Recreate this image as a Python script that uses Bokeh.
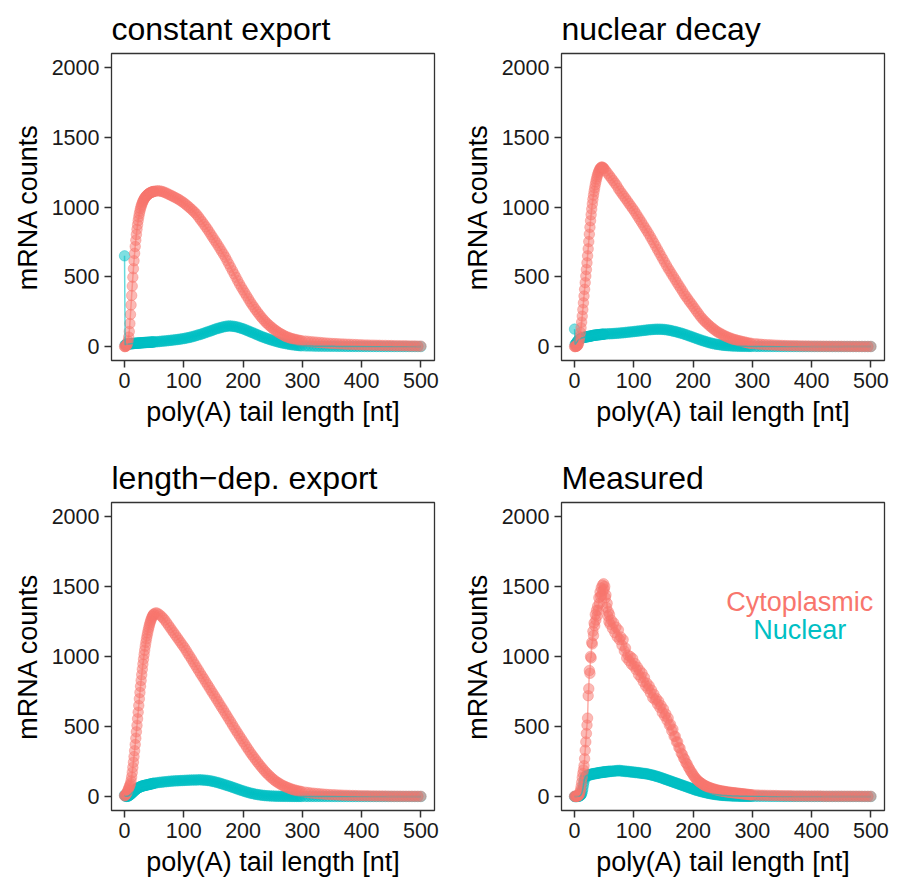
from bokeh.plotting import figure
from bokeh.layouts import column, row
from bokeh.models import Range1d, Label, FixedTicker
from bokeh.embed import file_html
from bokeh.resources import INLINE

RED = "#F8766D"
CYAN = "#00BFC4"
FONT = "Liberation Sans"

TITLES = ["constant export", "nuclear decay", "length\u2212dep. export", "Measured"]
X_TICKS = [0, 100, 200, 300, 400, 500]
Y_TICKS = [0, 500, 1000, 1500, 2000]
LEGEND = ["Cytoplasmic", "Nuclear"]

# x positions (poly(A) tail length, nt)
X_MODEL = list(range(0, 51)) + list(range(53, 300, 3)) + list(range(305, 501, 5))
X_MEAS = list(range(0, 61)) + list(range(62, 301, 2)) + list(range(305, 501, 5))

# constant export
CYTO_CONST = [0,0,2,5,11,22,40,68,108,165, 230,298,366,433,497,558,615,668,717,762,
    803,840,873,903,929,952,972,990,1005,1018, 1030,1040,1049,1057,1064,1070,1076,1081,1085,1089,
    1093,1096,1099,1101,1103,1105,1107,1109,1110,1111, 1112,
    1114,1116,1115,1113,1109,1104,1099,1092,1086,1080, 1073,1067,1060,1053,1044,1036,1027,1016,1006,995,
    983,971,959,945,928,911,894,876,858,840, 821,801,782,762,743,723,703,682,661,640,
    616,592,568,544,520,496,472,448,426,405, 384,363,342,321,302,283,265,248,231,215,
    200,186,172,160,149,138,127,118,109,100, 93,86,79,72,68,63,58,55,52,49, 46,43,41,
    39,37,35,33,31,29,27,25,24,22, 21,20,19,18,17,16,15,14,13,12,
    11,11,10,10,9,9,8,8,7,7, 6,6,5,5,5,4,4,4,3,3]
NUC_CONST = [650,12,14,15,16,17,18,18,19,19, 20,20,21,21,21,22,22,23,23,24,
    24,24,25,25,25,26,26,26,27,27, 27,28,28,28,29,29,29,29,30,30,
    30,30,31,31,31,32,32,32,33,33, 33,
    34,35,36,38,39,40,41,43,44,46, 47,49,50,52,54,56,58,61,63,66,
    69,73,76,80,84,87,91,96,100,105, 109,113,118,123,127,131,134,138,141,144,
    146,148,147,146,144,142,139,135,131,127, 122,117,112,106,101,96,90,85,79,74,
    69,64,60,55,51,47,43,39,36,32, 29,26,24,21,19,16,14,12,11,9, 8,6,5,
    4.5,4,3.5,3,2.6,2.3,2,1.8,1.6,1.5, 1.3,1.2,1.1,1,0.9,0.8,0.7,0.7,0.6,0.5,
    0.5,0.4,0.4,0.4,0.3,0.3,0.3,0.3,0.2,0.2, 0.2,0.2,0.2,0.1,0.1,0.1,0.1,0.1,0.1,0.1]

# nuclear decay
CYTO_DECAY = [0,0,1,2,4,8,15,27,45,70, 100,135,175,218,265,313,362,410,458,505,
    552,600,650,700,752,805,855,902,945,985, 1022,1055,1085,1112,1137,1160,1181,1200,1217,1232,
    1245,1256,1266,1274,1280,1284,1286,1285,1282,1278, 1273,
    1258,1241,1224,1207,1190,1172,1155,1132,1114,1096, 1078,1061,1043,1025,1007,989,971,951,931,911,
    891,870,850,830,809,787,765,742,719,696, 673,650,627,605,582,560,540,519,499,479,
    458,438,418,398,377,359,341,323,306,289, 271,253,236,218,203,189,176,164,152,141,
    131,121,111,103,96,89,82,76,70,65, 60,55,51,48,44,41,38,35,32,29, 26,24,22,
    20,18,16,14,13,12,11,10,9,8, 7,6.5,6,5.5,5,4.6,4.2,3.8,3.4,3,
    2.8,2.6,2.4,2.2,2,1.8,1.6,1.5,1.4,1.3, 1.2,1.1,1,0.9,0.8,0.7,0.6,0.6,0.5,0.5]
NUC_DECAY = [125,15,20,26,32,38,43,47,51,54, 57,59,61,63,64,65,66,67,68,69,
    69,70,71,72,72,73,74,75,76,77, 78,79,80,81,81,82,82,83,83,84,
    84,85,85,86,86,87,87,88,88,89, 89,
    90,91,92,92,93,94,95,96,97,98, 99,101,102,104,105,106,108,109,111,112,
    114,115,117,118,120,121,122,123,124,124, 124,124,123,122,120,118,116,113,110,107,
    104,100,97,93,89,85,80,76,71,67, 62,57,53,48,44,40,36,32,28,25,
    22,19,17,15,13,11,9.5,8,7,6, 5,4.3,3.7,3.2,2.8,2.4,2.1,1.8,1.6,1.4, 1.2,1.1,1,
    0.9,0.8,0.7,0.6,0.5,0.5,0.4,0.4,0.3,0.3, 0.3,0.2,0.2,0.2,0.2,0.1,0.1,0.1,0.1,0.1,
    0,0,0,0,0,0,0,0,0,0, 0,0,0,0,0,0,0,0,0,0]

# length-dependent export
CYTO_LEN = [5,8,12,18,26,36,47,58,69,80, 92,112,140,172,208,245,285,327,371,416,
    462,508,555,602,650,698,743,787,829,870, 909,946,981,1014,1045,1074,1101,1126,1149,1170,
    1190,1208,1225,1240,1254,1266,1277,1287,1295,1301, 1306,
    1312,1308,1299,1288,1275,1260,1242,1224,1206,1188, 1170,1152,1134,1116,1098,1080,1063,1043,1022,1002,
    982,961,941,920,900,879,859,839,818,798, 778,757,737,717,697,677,656,636,616,595,
    575,554,534,513,492,472,452,432,413,393, 374,354,335,316,298,281,264,247,231,215,
    200,185,171,158,146,134,123,113,104,96, 88,81,75,69,64,59,54,50,46,43, 40,37,35,
    31,28,25,23,21,19,17,15.5,14,13, 12,11,10,9,8.3,7.6,7,6.4,5.9,5.4,
    5,4.6,4.2,3.9,3.6,3.3,3,2.8,2.6,2.4, 2.2,2,1.8,1.7,1.6,1.5,1.4,1.3,1.2,1.1]
NUC_LEN = [10,5,2,1,1,2,3,5,8,11, 14,18,22,26,30,34,38,42,46,50,
    53,56,59,62,64,66,68,70,72,73, 75,76,77,78,79,80,81,82,83,84,
    85,86,87,88,89,90,91,92,93,94, 95,
    97,99,101,102,104,105,106,108,109,110, 111,112,112,113,114,114,115,116,116,117,
    117,118,118,118,119,119,118,117,116,115, 113,111,108,105,102,99,95,91,87,83,
    79,75,71,66,62,57,53,48,44,40, 36,32,28,25,22,19,16,14,12,10,
    8.5,7,6,5,4.2,3.5,3,2.5,2.1,1.8, 1.5,1.3,1.1,1,0.9,0.8,0.7,0.6,0.5,0.5, 0.4,0.4,0.3,
    0.3,0.3,0.2,0.2,0.2,0.2,0.1,0.1,0.1,0.1, 0,0,0,0,0,0,0,0,0,0,
    0,0,0,0,0,0,0,0,0,0, 0,0,0,0,0,0,0,0,0,0]

# measured
CYTO_MEAS = [2,1,2,1,2,3,4,8,15,28, 45,70,100,135,165,190,220,270,330,390,
    450,510,560,720,770,900,880,1000,990,1100, 1090,1180,1150,1240,1220,1300,1260,1330,1290,1360,
    1330,1420,1380,1460,1430,1490,1440,1510,1470,1520, 1480,1500,1420,1440,1350,1380,1290,1320,1250,1300,
    1230,
    1260,1200,1240,1170,1210,1140,1190,1120,1140,1080, 1120,1040,1060,990,1010,970,1000,945,985,930,
    950,905,925,870,900,850,880,820,850,790, 810,770,790,740,760,705,730,690,700,660,
    680,635,650,600,625,575,590,545,560,510, 515,470,480,430,430,390,390,350,345,310,
    300,275,265,240,232,210,198,180,170,155, 143,132,122,114,106,100,94,88,83,78,
    74,70,66,63,60,57,54,52,49,47, 45,43,41,40,38,37,35,34,32,31,
    30,29,28,27,26,25,24,23,22,21, 20,19,18,17,16,15,14,13,12,12,
    11,10,9,9,8,8,7,7,6,6, 5,5,5,4,4,4,4,3,3,3,
    3,3,3,2,2,2,2,2,2,2, 2,2,2,2,2,2,1,1,1,1]
NUC_MEAS = [0,0,0,0,0,1,1,2,3,5, 8,12,20,35,55,80,105,125,138,145,
    148,150,152,150,155,153,157,155,160,158, 162,160,163,161,165,163,166,164,168,166,
    170,168,171,169,172,170,174,172,175,173, 176,174,177,175,178,176,179,177,180,178,
    181,
    179,182,180,184,182,186,183,187,182,184, 180,183,178,181,177,179,175,177,173,175,
    171,173,169,171,167,168,165,166,163,164, 161,160,158,156,154,152,150,147,145,142,
    140,137,134,131,128,125,122,119,116,113, 110,107,104,101,98,95,92,89,86,83,
    80,77,74,71,68,65,62,59,56,53, 50,47,45,42,40,37,35,33,31,29,
    27,25,23,21,20,18,17,15,14,13, 12,11,10,9,8,7.5,7,6.5,6,5.5,
    5,4.6,4.2,3.9,3.6,3.3,3,2.8,2.6,2.4, 2.2,2,1.9,1.8,1.7,1.6,1.5,1.4,1.3,1.2,
    1.1,1,1,0.9,0.9,0.8,0.8,0.7,0.7,0.6, 0.6,0.5,0.5,0.5,0.4,0.4,0.4,0.4,0.3,0.3,
    0.3,0.3,0.3,0.2,0.2,0.2,0.2,0.2,0.2,0.2, 0.1,0.1,0.1,0.1,0.1,0.1,0.1,0.1,0.1,0.1]

for nm, xs, ys in [("cc", X_MODEL, CYTO_CONST), ("nc", X_MODEL, NUC_CONST),
                   ("cd", X_MODEL, CYTO_DECAY), ("nd", X_MODEL, NUC_DECAY),
                   ("cl", X_MODEL, CYTO_LEN), ("nl", X_MODEL, NUC_LEN),
                   ("cm", X_MEAS, CYTO_MEAS), ("nm", X_MEAS, NUC_MEAS)]:
    assert len(xs) == len(ys), (nm, len(xs), len(ys))


def make_panel(title, xs, cyto, nuc, left, top, bottom, right):
    p = figure(frame_width=323, frame_height=308 if top == 60 else 307,
               min_border_left=left, min_border_right=right,
               min_border_top=top, min_border_bottom=bottom,
               x_range=Range1d(-22, 523), y_range=Range1d(-100, 2100),
               output_backend="svg", toolbar_location=None, tools="")
    p.title.text = title
    p.title.text_font = FONT
    p.title.text_font_size = "32px"
    p.title.text_font_style = "normal"
    p.title.text_color = "#000000"
    p.title.align = "left"
    p.title.offset = 0
    p.title.standoff = 14
    p.outline_line_color = "#333333"
    p.outline_line_width = 1.3
    p.xgrid.visible = False
    p.ygrid.visible = False
    p.background_fill_color = "white"
    p.border_fill_color = "white"
    for ax in (p.xaxis[0], p.yaxis[0]):
        ax.axis_line_color = None
        ax.major_tick_line_color = "#333333"
        ax.major_tick_line_width = 1.5
        ax.major_tick_out = 7
        ax.major_tick_in = 0
        ax.minor_tick_line_color = None
        ax.major_label_text_font = FONT
        ax.major_label_text_font_size = "21.5px"
        ax.major_label_text_color = "#1a1a1a"
        ax.major_label_standoff = 5
        ax.axis_label_text_font = FONT
        ax.axis_label_text_font_size = "27px"
        ax.axis_label_text_font_style = "normal"
        ax.axis_label_text_color = "#000000"
        ax.axis_label_standoff = 6
    p.xaxis.ticker = FixedTicker(ticks=X_TICKS)
    p.yaxis.ticker = FixedTicker(ticks=Y_TICKS)
    p.xaxis.axis_label = "poly(A) tail length [nt]"
    p.yaxis.axis_label = "mRNA counts"

    p.scatter(xs, nuc, size=10.5, fill_color=CYAN, line_color=CYAN, fill_alpha=0.5,
              line_alpha=0.5, line_width=0.8)
    p.scatter(xs, cyto, size=10.5, fill_color=RED, line_color=RED, fill_alpha=0.5,
              line_alpha=0.5, line_width=0.8)
    p.line(xs, nuc, line_color=CYAN, line_width=1.5, line_alpha=0.6)
    p.line(xs, cyto, line_color=RED, line_width=1.5, line_alpha=0.6)
    return p


p1 = make_panel(TITLES[0], X_MODEL, CYTO_CONST, NUC_CONST, 111, 53, 82, 17)
p2 = make_panel(TITLES[1], X_MODEL, CYTO_DECAY, NUC_DECAY, 110, 53, 82, 19)
p3 = make_panel(TITLES[2], X_MODEL, CYTO_LEN, NUC_LEN, 111, 60, 74, 17)
p4 = make_panel(TITLES[3], X_MEAS, CYTO_MEAS, NUC_MEAS, 110, 60, 74, 19)

p4.add_layout(Label(x=380, y=1390, text=LEGEND[0], text_color=RED, text_font=FONT,
                    text_font_size="27px", text_align="center", text_baseline="middle"))
p4.add_layout(Label(x=380, y=1188, text=LEGEND[1], text_color=CYAN, text_font=FONT,
                    text_font_size="27px", text_align="center", text_baseline="middle"))

layout = column(row(p1, p2), row(p3, p4))
open("out.html", "w").write(file_html(layout, INLINE))
